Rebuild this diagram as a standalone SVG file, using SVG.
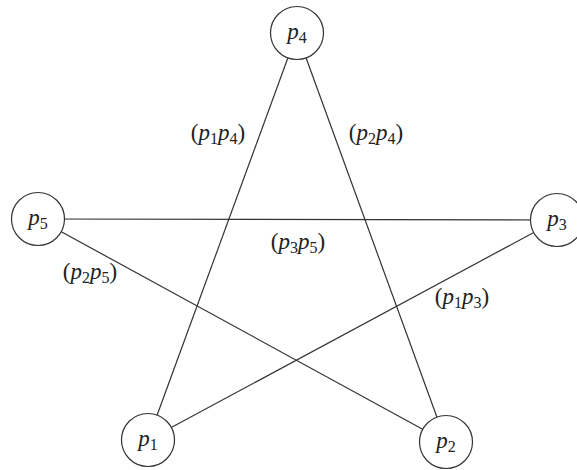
<svg xmlns="http://www.w3.org/2000/svg" width="577" height="470" viewBox="0 0 577 470">
<style>
.n{fill:#fff;stroke:#333;stroke-width:1.2}
.e{stroke:#333;stroke-width:1.2;fill:none}
text{font-family:"Liberation Serif","DejaVu Serif",serif;font-size:23px;fill:#222}
.c{text-anchor:middle}
.i{font-style:italic}
.s{font-size:16px}
</style>
<rect width="577" height="470" fill="#fff"/>
<g id="edges">
<line class="e" x1="148" y1="440" x2="297" y2="33"/>
<line class="e" x1="446" y1="442" x2="297" y2="33"/>
<line class="e" x1="38" y1="219" x2="557" y2="220"/>
<line class="e" x1="148" y1="440" x2="557" y2="220"/>
<line class="e" x1="446" y1="442" x2="38" y2="219"/>
</g>
<g id="p4"><circle class="n" cx="297" cy="33" r="26.5"/><text class="c" x="297" y="39"><tspan class="i">p</tspan><tspan class="s" dy="4">4</tspan></text></g>
<g id="p5"><circle class="n" cx="38" cy="219" r="26.5"/><text class="c" x="38" y="225"><tspan class="i">p</tspan><tspan class="s" dy="4">5</tspan></text></g>
<g id="p3"><circle class="n" cx="557" cy="220" r="26.5"/><text class="c" x="557" y="226"><tspan class="i">p</tspan><tspan class="s" dy="4">3</tspan></text></g>
<g id="p1"><circle class="n" cx="148" cy="440" r="26.5"/><text class="c" x="148" y="446"><tspan class="i">p</tspan><tspan class="s" dy="4">1</tspan></text></g>
<g id="p2"><circle class="n" cx="446" cy="442" r="26.5"/><text class="c" x="446" y="448"><tspan class="i">p</tspan><tspan class="s" dy="4">2</tspan></text></g>
<g id="labels">
<text class="c" x="218" y="140">(<tspan class="i">p</tspan><tspan class="s" dy="4">1</tspan><tspan class="i" dy="-4">p</tspan><tspan class="s" dy="4">4</tspan><tspan dy="-4">)</tspan></text>
<text class="c" x="376" y="140">(<tspan class="i">p</tspan><tspan class="s" dy="4">2</tspan><tspan class="i" dy="-4">p</tspan><tspan class="s" dy="4">4</tspan><tspan dy="-4">)</tspan></text>
<text class="c" x="298" y="249">(<tspan class="i">p</tspan><tspan class="s" dy="4">3</tspan><tspan class="i" dy="-4">p</tspan><tspan class="s" dy="4">5</tspan><tspan dy="-4">)</tspan></text>
<text class="c" x="90" y="279">(<tspan class="i">p</tspan><tspan class="s" dy="4">2</tspan><tspan class="i" dy="-4">p</tspan><tspan class="s" dy="4">5</tspan><tspan dy="-4">)</tspan></text>
<text class="c" x="462" y="304">(<tspan class="i">p</tspan><tspan class="s" dy="4">1</tspan><tspan class="i" dy="-4">p</tspan><tspan class="s" dy="4">3</tspan><tspan dy="-4">)</tspan></text>
</g>
</svg>
